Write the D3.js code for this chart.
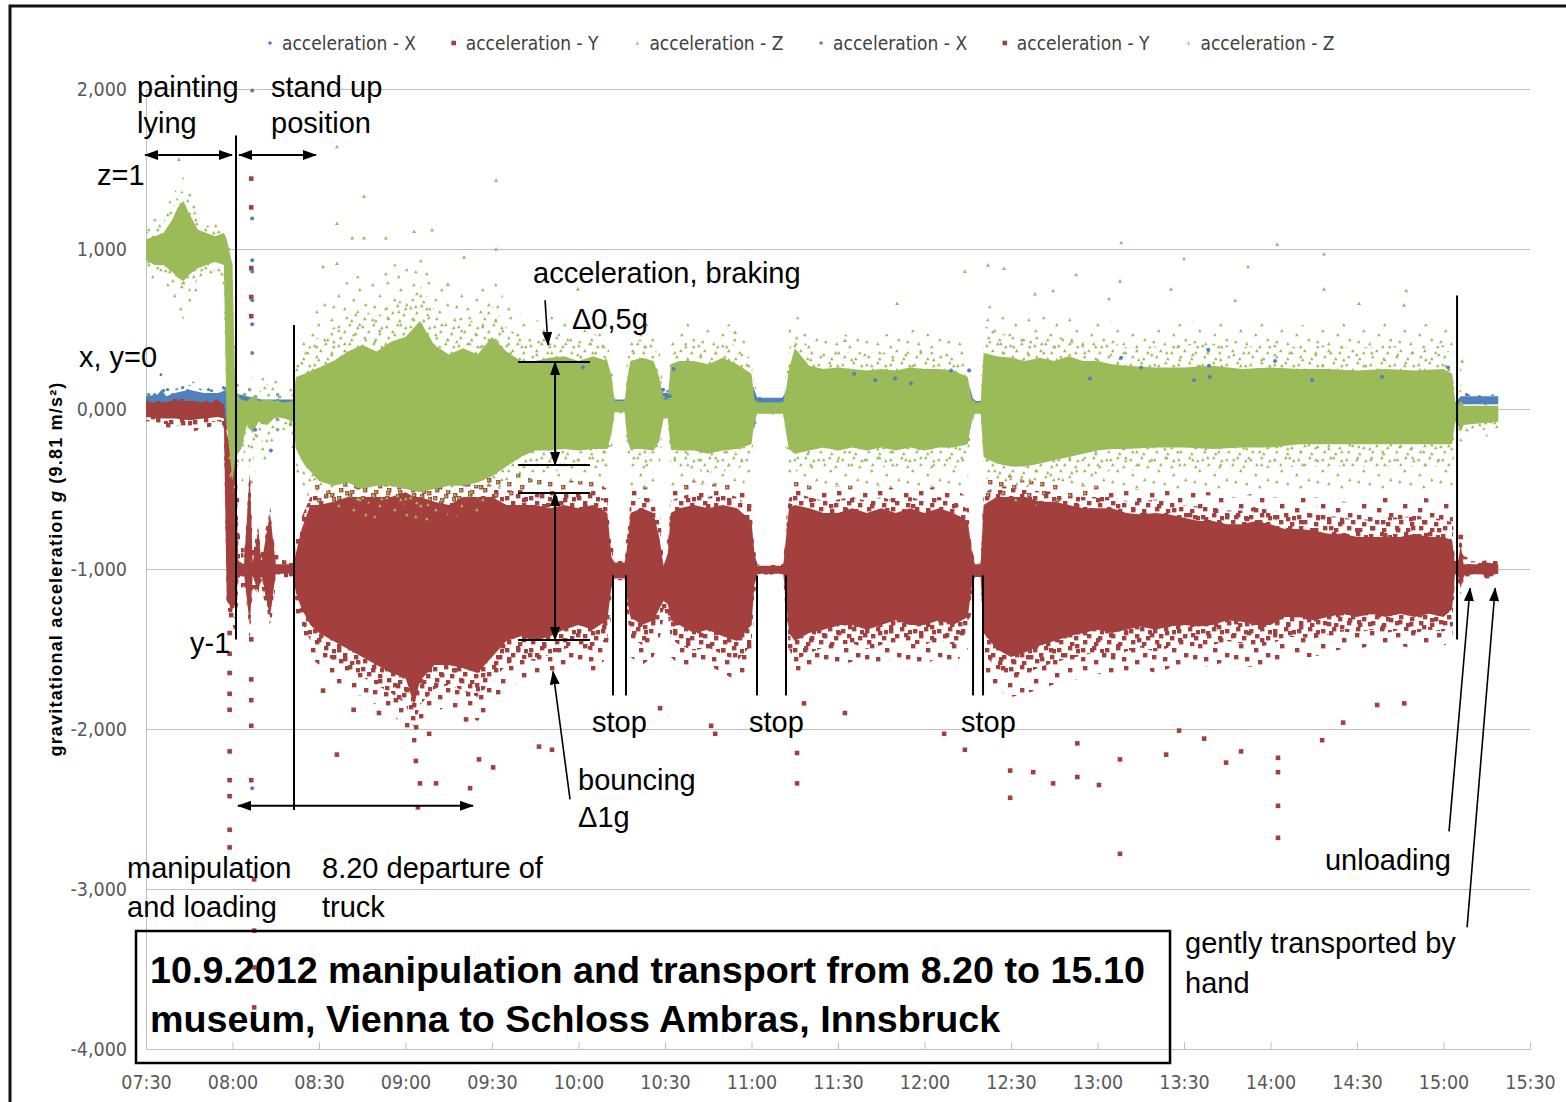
<!DOCTYPE html>
<html>
<head>
<meta charset="utf-8">
<script src="https://cdn.jsdelivr.net/npm/d3@7"></script>
<style>
  body { margin: 0; background: #fff; }
  svg { display: block; }
</style>
</head>
<body>
<div id="chart"></div>
<script>
// ---- values (g) ----
const timeDomain = ["07:30", "15:30"];
const valueDomain = [-4, 2];
const yTicks = [2, 1, 0, -1, -2, -3, -4];
const legendLabels = ["acceleration - X", "acceleration - Y", "acceleration - Z",
                      "acceleration - X", "acceleration - Y", "acceleration - Z"];
const legendSeries = ["x", "y", "z", "x", "y", "z"];

// dense cloud per sensor axis: [time, coreLow, coreHigh, fringeLow, fringeHigh]
const accX = [
  ["07:30", 0.00, 0.08, -0.05, 0.12], ["07:34", 0.00, 0.09, -0.10, 0.16],
  ["07:35:30", -0.05, 0.12, -0.21, 0.27], ["07:37", 0.00, 0.08, -0.08, 0.13],
  ["07:40", 0.00, 0.10, -0.08, 0.15], ["07:45", 0.00, 0.12, -0.10, 0.18],
  ["07:50", 0.00, 0.10, -0.06, 0.14], ["07:55", 0.02, 0.10, -0.05, 0.15],
  ["07:58", -0.10, 0.12, -0.30, 0.20], ["08:00", -0.05, 0.10, -0.30, 0.25],
  ["08:05", 0.00, 0.08, -0.10, 0.15], ["08:10", 0.00, 0.06, -0.12, 0.12],
  ["08:15", -0.02, 0.06, -0.15, 0.10], ["08:21", -0.02, 0.06, -0.10, 0.10],
  ["08:23", -0.12, 0.12, -0.20, 0.18], ["10:11", -0.12, 0.12, -0.20, 0.18],
  ["10:12", 0.02, 0.06, 0.00, 0.08], ["10:16:30", 0.02, 0.06, 0.00, 0.08],
  ["10:17:30", -0.12, 0.12, -0.20, 0.18], ["10:28:30", -0.12, 0.12, -0.20, 0.18],
  ["10:29:30", 0.03, 0.10, 0.00, 0.13], ["10:31", 0.03, 0.10, 0.00, 0.13],
  ["10:32", -0.12, 0.12, -0.20, 0.18], ["11:01", -0.12, 0.12, -0.20, 0.18],
  ["11:02", 0.03, 0.07, 0.02, 0.08], ["11:11", 0.03, 0.07, 0.02, 0.08],
  ["11:12", -0.12, 0.12, -0.20, 0.18], ["12:16", -0.12, 0.12, -0.20, 0.18],
  ["12:17", 0.01, 0.05, 0.00, 0.07], ["12:19:30", 0.01, 0.05, 0.00, 0.07],
  ["12:20:30", -0.12, 0.12, -0.20, 0.18], ["15:03", -0.12, 0.12, -0.20, 0.18],
  ["15:04", 0.02, 0.04, 0.00, 0.06], ["15:06", 0.03, 0.08, 0.02, 0.10],
  ["15:19", 0.03, 0.08, 0.02, 0.10]
];

const accY = [
  ["07:30", -0.05, 0.04, -0.10, 0.06], ["07:35", -0.06, 0.04, -0.12, 0.06],
  ["07:40", -0.06, 0.05, -0.14, 0.07], ["07:45", -0.07, 0.05, -0.15, 0.08],
  ["07:50", -0.06, 0.04, -0.12, 0.06], ["07:55", -0.05, 0.04, -0.10, 0.06],
  ["07:57", -0.06, 0.03, -0.12, 0.05], ["07:58", -1.20, -0.15, -1.30, -0.05],
  ["08:00", -1.25, -0.30, -1.35, -0.20], ["08:01", -1.22, -0.30, -1.40, -0.25],
  ["08:02", -1.05, -0.95, -1.20, -0.50], ["08:04", -1.03, -0.97, -1.10, -0.90],
  ["08:06", -1.35, -0.40, -1.45, -0.30], ["08:07", -1.04, -0.96, -1.15, -0.85],
  ["08:09", -1.15, -0.75, -1.20, -0.70], ["08:10", -1.03, -0.97, -1.10, -0.90],
  ["08:13", -1.30, -0.65, -1.40, -0.60], ["08:15", -1.03, -0.97, -1.10, -0.90],
  ["08:18", -1.03, -0.97, -1.08, -0.92], ["08:21", -1.03, -0.97, -1.08, -0.93],
  ["08:22", -1.15, -0.90, -1.30, -0.80], ["08:24", -1.25, -0.75, -1.40, -0.60],
  ["08:27", -1.35, -0.60, -1.55, -0.50], ["08:30", -1.40, -0.60, -1.60, -0.45],
  ["08:35", -1.45, -0.58, -1.70, -0.42], ["08:40", -1.50, -0.55, -1.75, -0.40],
  ["08:45", -1.55, -0.55, -1.80, -0.38], ["08:50", -1.60, -0.55, -1.85, -0.40],
  ["08:55", -1.65, -0.55, -1.90, -0.38], ["09:00", -1.68, -0.52, -2.00, -0.38],
  ["09:03", -1.85, -0.55, -2.15, -0.38], ["09:05", -1.70, -0.55, -2.00, -0.40],
  ["09:10", -1.60, -0.58, -1.90, -0.40], ["09:15", -1.60, -0.60, -1.85, -0.42],
  ["09:20", -1.62, -0.55, -1.90, -0.40], ["09:25", -1.65, -0.55, -1.95, -0.40],
  ["09:30", -1.55, -0.55, -1.85, -0.40], ["09:35", -1.45, -0.60, -1.75, -0.42],
  ["09:40", -1.42, -0.60, -1.70, -0.40], ["09:45", -1.45, -0.60, -1.70, -0.45],
  ["09:50", -1.42, -0.62, -1.65, -0.42], ["09:55", -1.38, -0.60, -1.62, -0.45],
  ["10:00", -1.35, -0.62, -1.60, -0.45], ["10:05", -1.38, -0.60, -1.65, -0.45],
  ["10:10", -1.32, -0.65, -1.55, -0.50], ["10:11:30", -1.10, -0.93, -1.25, -0.80],
  ["10:12:30", -1.06, -0.96, -1.08, -0.94], ["10:16", -1.06, -0.96, -1.08, -0.94],
  ["10:17", -1.20, -0.85, -1.40, -0.70], ["10:18", -1.30, -0.65, -1.55, -0.50],
  ["10:22", -1.35, -0.62, -1.60, -0.48], ["10:26", -1.32, -0.65, -1.55, -0.50],
  ["10:28", -1.25, -0.80, -1.45, -0.60], ["10:29:30", -1.20, -0.98, -1.30, -0.94],
  ["10:31", -1.22, -0.90, -1.35, -0.80], ["10:32", -1.32, -0.65, -1.55, -0.50],
  ["10:35", -1.35, -0.62, -1.60, -0.48], ["10:40", -1.40, -0.60, -1.62, -0.45],
  ["10:45", -1.38, -0.62, -1.60, -0.48], ["10:50", -1.42, -0.60, -1.65, -0.45],
  ["10:55", -1.45, -0.62, -1.70, -0.48], ["11:00", -1.35, -0.70, -1.60, -0.55],
  ["11:01", -1.10, -0.90, -1.20, -0.85], ["11:02", -1.03, -0.98, -1.04, -0.97],
  ["11:11", -1.03, -0.98, -1.04, -0.97], ["11:12", -1.20, -0.80, -1.35, -0.70],
  ["11:13", -1.40, -0.62, -1.60, -0.50], ["11:15", -1.45, -0.60, -1.70, -0.45],
  ["11:20", -1.40, -0.62, -1.65, -0.48], ["11:25", -1.38, -0.65, -1.60, -0.50],
  ["11:30", -1.35, -0.65, -1.60, -0.48], ["11:35", -1.35, -0.62, -1.58, -0.48],
  ["11:40", -1.38, -0.65, -1.62, -0.50], ["11:45", -1.35, -0.62, -1.60, -0.48],
  ["11:50", -1.32, -0.65, -1.55, -0.50], ["11:55", -1.35, -0.62, -1.58, -0.48],
  ["12:00", -1.35, -0.65, -1.60, -0.50], ["12:05", -1.32, -0.62, -1.55, -0.48],
  ["12:10", -1.35, -0.65, -1.60, -0.50], ["12:15", -1.30, -0.70, -1.50, -0.55],
  ["12:16:30", -1.10, -0.90, -1.20, -0.85], ["12:17:30", -1.05, -0.97, -1.06, -0.96],
  ["12:19:30", -1.05, -0.97, -1.06, -0.96], ["12:20:30", -1.40, -0.60, -1.65, -0.45],
  ["12:25", -1.50, -0.55, -1.75, -0.42], ["12:30", -1.55, -0.55, -1.80, -0.42],
  ["12:35", -1.52, -0.55, -1.78, -0.45], ["12:40", -1.48, -0.58, -1.75, -0.45],
  ["12:45", -1.45, -0.58, -1.72, -0.45], ["12:50", -1.42, -0.60, -1.70, -0.48],
  ["12:55", -1.40, -0.62, -1.68, -0.48], ["13:00", -1.38, -0.62, -1.65, -0.48],
  ["13:05", -1.40, -0.62, -1.70, -0.48], ["13:10", -1.38, -0.65, -1.65, -0.50],
  ["13:15", -1.36, -0.66, -1.62, -0.50], ["13:20", -1.38, -0.65, -1.65, -0.48],
  ["13:25", -1.36, -0.66, -1.62, -0.50], ["13:30", -1.35, -0.68, -1.60, -0.52],
  ["13:35", -1.36, -0.70, -1.62, -0.52], ["13:40", -1.35, -0.70, -1.60, -0.52],
  ["13:45", -1.32, -0.72, -1.58, -0.55], ["13:50", -1.33, -0.72, -1.60, -0.55],
  ["13:55", -1.35, -0.70, -1.62, -0.52], ["14:00", -1.35, -0.72, -1.60, -0.55],
  ["14:05", -1.30, -0.75, -1.55, -0.55], ["14:10", -1.30, -0.75, -1.55, -0.55],
  ["14:15", -1.32, -0.76, -1.55, -0.55], ["14:20", -1.30, -0.78, -1.52, -0.55],
  ["14:25", -1.28, -0.78, -1.50, -0.58], ["14:30", -1.30, -0.80, -1.50, -0.58],
  ["14:35", -1.28, -0.80, -1.48, -0.58], ["14:40", -1.30, -0.80, -1.50, -0.55],
  ["14:45", -1.28, -0.80, -1.48, -0.56], ["14:50", -1.30, -0.78, -1.50, -0.55],
  ["14:55", -1.28, -0.80, -1.48, -0.56], ["15:00", -1.30, -0.80, -1.48, -0.58],
  ["15:03", -1.25, -0.82, -1.45, -0.60], ["15:04", -1.03, -0.97, -1.05, -0.95],
  ["15:05", -1.04, -0.96, -1.12, -0.86], ["15:06", -1.12, -0.85, -1.20, -0.80],
  ["15:07", -1.04, -0.97, -1.08, -0.92], ["15:12", -1.03, -0.97, -1.06, -0.94],
  ["15:15", -1.04, -0.96, -1.07, -0.93], ["15:19", -1.03, -0.97, -1.05, -0.95]
];

const accZ = [
  ["07:30", 0.93, 1.06, 0.84, 1.14], ["07:33", 0.90, 1.08, 0.78, 1.20],
  ["07:36", 0.90, 1.10, 0.80, 1.24], ["07:39", 0.86, 1.18, 0.72, 1.32],
  ["07:41", 0.82, 1.26, 0.62, 1.40], ["07:43", 0.80, 1.30, 0.56, 1.45],
  ["07:45", 0.84, 1.22, 0.62, 1.38], ["07:48", 0.88, 1.12, 0.74, 1.28],
  ["07:51", 0.90, 1.10, 0.80, 1.20], ["07:54", 0.92, 1.08, 0.82, 1.16],
  ["07:57", 0.90, 1.10, 0.70, 1.20], ["07:58", -0.10, 1.06, -0.45, 1.10],
  ["08:00", -0.45, 0.90, -0.60, 1.00], ["08:01", -0.30, 0.10, -0.55, 0.30],
  ["08:03", -0.25, 0.06, -0.50, 0.15], ["08:05", -0.10, 0.05, -0.35, 0.15],
  ["08:07", -0.15, 0.08, -0.50, 0.20], ["08:09", -0.08, 0.05, -0.30, 0.15],
  ["08:12", -0.10, 0.06, -0.35, 0.25], ["08:15", -0.05, 0.05, -0.25, 0.20],
  ["08:18", -0.06, 0.04, -0.20, 0.12], ["08:21", -0.08, 0.05, -0.25, 0.15],
  ["08:22", -0.25, 0.20, -0.45, 0.45], ["08:25", -0.35, 0.22, -0.50, 0.50],
  ["08:30", -0.45, 0.26, -0.60, 0.65], ["08:35", -0.48, 0.30, -0.66, 0.72],
  ["08:40", -0.46, 0.36, -0.68, 0.80], ["08:45", -0.50, 0.40, -0.70, 0.85],
  ["08:50", -0.48, 0.36, -0.68, 0.78], ["08:55", -0.48, 0.42, -0.66, 0.90],
  ["09:00", -0.50, 0.45, -0.70, 0.92], ["09:05", -0.52, 0.55, -0.72, 1.00],
  ["09:10", -0.50, 0.40, -0.70, 0.85], ["09:15", -0.48, 0.34, -0.66, 0.72],
  ["09:20", -0.48, 0.38, -0.68, 0.78], ["09:25", -0.46, 0.34, -0.66, 0.72],
  ["09:30", -0.42, 0.45, -0.62, 0.85], ["09:35", -0.36, 0.36, -0.58, 0.66],
  ["09:40", -0.30, 0.30, -0.55, 0.60], ["09:45", -0.26, 0.30, -0.52, 0.55],
  ["09:50", -0.26, 0.32, -0.52, 0.58], ["09:55", -0.25, 0.33, -0.52, 0.60],
  ["10:00", -0.26, 0.30, -0.50, 0.55], ["10:05", -0.25, 0.33, -0.50, 0.62],
  ["10:10", -0.25, 0.30, -0.48, 0.55], ["10:11:30", -0.15, 0.20, -0.30, 0.35],
  ["10:12:30", -0.02, 0.05, -0.04, 0.07], ["10:16", -0.02, 0.05, -0.04, 0.07],
  ["10:17", -0.20, 0.20, -0.35, 0.40], ["10:18", -0.25, 0.30, -0.50, 0.55],
  ["10:22", -0.25, 0.32, -0.50, 0.55], ["10:26", -0.26, 0.30, -0.50, 0.55],
  ["10:28", -0.20, 0.20, -0.40, 0.40], ["10:29:30", -0.06, 0.06, -0.10, 0.10],
  ["10:31", -0.06, 0.06, -0.10, 0.10], ["10:32", -0.25, 0.28, -0.48, 0.45],
  ["10:35", -0.26, 0.30, -0.50, 0.50], ["10:40", -0.26, 0.30, -0.50, 0.56],
  ["10:45", -0.28, 0.28, -0.52, 0.50], ["10:50", -0.26, 0.32, -0.52, 0.55],
  ["10:55", -0.25, 0.28, -0.50, 0.50], ["11:00", -0.22, 0.22, -0.42, 0.40],
  ["11:01", -0.08, 0.06, -0.20, 0.15], ["11:02", -0.03, 0.04, -0.04, 0.05],
  ["11:11", -0.03, 0.04, -0.04, 0.05], ["11:12", -0.15, 0.12, -0.30, 0.25],
  ["11:13", -0.25, 0.25, -0.45, 0.50], ["11:15", -0.28, 0.38, -0.50, 0.60],
  ["11:20", -0.26, 0.27, -0.50, 0.50], ["11:25", -0.24, 0.25, -0.48, 0.45],
  ["11:30", -0.26, 0.26, -0.50, 0.48], ["11:35", -0.24, 0.25, -0.50, 0.45],
  ["11:40", -0.26, 0.24, -0.50, 0.48], ["11:45", -0.24, 0.25, -0.48, 0.45],
  ["11:50", -0.26, 0.24, -0.50, 0.50], ["11:55", -0.24, 0.26, -0.50, 0.50],
  ["12:00", -0.26, 0.25, -0.50, 0.48], ["12:05", -0.24, 0.25, -0.48, 0.45],
  ["12:10", -0.24, 0.24, -0.50, 0.45], ["12:15", -0.22, 0.20, -0.45, 0.40],
  ["12:16:30", -0.06, 0.05, -0.12, 0.08], ["12:17:30", -0.03, 0.04, -0.04, 0.05],
  ["12:19:30", -0.03, 0.04, -0.04, 0.05], ["12:20:30", -0.30, 0.35, -0.55, 0.70],
  ["12:25", -0.34, 0.33, -0.60, 0.62], ["12:30", -0.36, 0.32, -0.62, 0.60],
  ["12:35", -0.36, 0.30, -0.62, 0.58], ["12:40", -0.34, 0.32, -0.60, 0.60],
  ["12:45", -0.32, 0.30, -0.60, 0.55], ["12:50", -0.30, 0.33, -0.58, 0.62],
  ["12:55", -0.28, 0.30, -0.56, 0.55], ["13:00", -0.26, 0.30, -0.55, 0.55],
  ["13:05", -0.25, 0.28, -0.52, 0.55], ["13:10", -0.25, 0.27, -0.52, 0.50],
  ["13:20", -0.24, 0.26, -0.52, 0.52], ["13:30", -0.24, 0.26, -0.50, 0.55],
  ["13:40", -0.25, 0.27, -0.52, 0.55], ["13:50", -0.24, 0.25, -0.50, 0.52],
  ["14:00", -0.24, 0.26, -0.50, 0.55], ["14:10", -0.22, 0.25, -0.50, 0.52],
  ["14:20", -0.22, 0.25, -0.50, 0.55], ["14:30", -0.22, 0.24, -0.50, 0.52],
  ["14:40", -0.22, 0.25, -0.50, 0.55], ["14:50", -0.22, 0.24, -0.50, 0.52],
  ["15:00", -0.22, 0.25, -0.50, 0.55], ["15:03", -0.22, 0.22, -0.50, 0.45],
  ["15:04", -0.08, 0.04, -0.15, 0.05], ["15:05", -0.10, 0.02, -0.20, 0.04],
  ["15:06", -0.14, 0.05, -0.28, 0.30], ["15:07", -0.10, 0.02, -0.20, 0.04],
  ["15:12", -0.09, 0.02, -0.18, 0.04], ["15:19", -0.08, 0.02, -0.16, 0.04]
];

// single stray readings: [time, value]
const outX = [
  ["08:06:50", 1.99], ["08:06:50", 1.19], ["08:06:50", 0.93], ["08:06:50", 0.86],
  ["08:06:50", 0.68], ["08:06:50", 0.53], ["08:06:50", 0.35], ["08:06:50", -2.37],
  ["08:07:50", -0.13], ["08:13:20", -0.26], ["10:29:20", 0.12], ["10:30:30", 0.09],
  ["10:31:40", 0.08], ["10:01:30", 0.26], ["10:33", 0.25], ["11:35:36", 0.22],
  ["11:42:54", 0.18], ["11:49:48", 0.19], ["11:55:18", 0.16], ["12:09:12", 0.24],
  ["12:15:30", 0.24], ["12:57:24", 0.19], ["13:08:12", 0.32], ["13:15:06", 0.26],
  ["13:33:30", 0.18], ["13:38:24", 0.37], ["13:38:40", 0.27], ["13:38:56", 0.20],
  ["14:01:36", 0.30], ["14:14:24", 0.18], ["14:38:42", 0.20], ["15:01:36", 0.26]
];

const outY = [
  ["07:59", -1.40], ["07:59", -1.53], ["07:59", -1.65], ["07:59", -1.78], ["07:59", -1.88],
  ["07:59", -2.14], ["07:59", -2.32], ["07:59", -2.42], ["07:59", -2.63], ["07:59", -2.74],
  ["08:06:30", 1.44], ["08:06:30", 1.26], ["08:06:30", 0.88], ["08:06:30", 0.70],
  ["08:06:30", 0.58], ["08:06:30", -1.44], ["08:06:30", -1.69], ["08:06:30", -1.82],
  ["08:06:30", -1.98], ["08:06:30", -2.32], ["08:07:30", -2.94], ["08:07:30", -3.26],
  ["08:07:30", -3.49], ["08:07:30", -3.74],
  ["08:31:24", -1.76], ["08:36:12", -2.16], ["08:42", -1.88], ["08:50:48", -1.90],
  ["08:56:42", -1.82], ["09:03:36", -2.20], ["09:05", -2.34], ["09:04:18", -2.49],
  ["09:10:36", -2.34], ["09:08:12", -2.03], ["09:21", -1.94], ["09:22:24", -2.37],
  ["09:25:30", -2.19], ["09:30:24", -2.24], ["09:46:18", -2.11], ["09:50:48", -2.13],
  ["10:28:18", -1.87], ["10:46", -1.98], ["10:47:24", -2.03], ["11:15:48", -2.15],
  ["11:15:48", -2.34], ["11:18:12", -1.84], ["11:32:24", -1.90], ["12:06:48", -2.03],
  ["12:14", -2.13], ["12:29:42", -2.43], ["12:29:42", -2.26], ["12:37:42", -2.27],
  ["12:44:36", -2.34], ["12:53", -2.09], ["12:53", -2.30], ["13:00:30", -2.35],
  ["13:07:48", -2.19], ["13:07:48", -2.78], ["13:23:48", -2.16], ["13:28:18", -2.01],
  ["13:37", -2.06], ["13:44:36", -2.21], ["13:49:48", -2.14], ["14:02:36", -2.18],
  ["14:02:36", -2.27], ["14:02:36", -2.48], ["14:02:36", -2.68], ["14:17:54", -2.07],
  ["14:25:12", -1.96], ["14:37", -1.85], ["14:46:24", -1.84], ["15:06", -0.80]
];

const outZ = [
  ["07:41:24", 1.56], ["08:36:12", 1.64], ["08:36:12", 1.16], ["08:45:36", 1.33],
  ["09:31:24", 1.43], ["09:31:24", 1.00], ["08:41:30", 1.07], ["08:45:36", 1.07],
  ["08:53:12", 1.07], ["09:03", 1.11], ["09:09:12", 1.12], ["08:31:24", 0.89],
  ["08:36:12", 0.91], ["09:14:42", 0.78], ["09:20:18", 0.95], ["12:22", 0.90],
  ["12:27:36", 0.88], ["12:14", 0.86], ["12:52:36", 0.84], ["12:38:18", 0.72],
  ["11:50:30", 0.66], ["11:32:24", 0.43], ["10:54:18", 0.48], ["09:59:48", 0.75],
  ["13:08:12", 1.04], ["14:02:18", 1.03], ["14:18:36", 0.97], ["14:18:36", 0.75],
  ["13:30", 0.94], ["13:52:12", 0.89], ["13:07:48", 0.80], ["14:47:06", 0.74],
  ["14:30:42", 0.66], ["14:46:18", 0.65], ["13:04", 0.69], ["13:25:30", 0.75],
  ["13:47:42", 0.68], ["12:44:36", 0.74], ["15:06:30", 0.30]
];

// ---- chart ----
const W = 1566, H = 1102;
const colors = { x: "#4F81BD", y: "#A3403D", z: "#9BBB59" };
const smallFont = "'DejaVu Sans Condensed', 'Liberation Sans', sans-serif";
const bigFont = "'Liberation Sans', Arial, sans-serif";

const parseT = s => {
  const p = s.split(":").map(Number);
  return new Date(2012, 8, 10, p[0], p[1], p[2] || 0);
};

const x = d3.scaleTime()
  .domain(timeDomain.map(parseT))
  .range([146, 1530]);

const y = d3.scaleLinear()
  .domain(valueDomain)
  .range([1049, 89]);

const fmtG = v => (v < 0 ? "-" : "") + Math.abs(v).toFixed(3).replace(".", ",");

const svg = d3.select("#chart").append("svg")
  .attr("width", W)
  .attr("height", H);

svg.append("rect").attr("width", W).attr("height", H).attr("fill", "#fff");

// frame (picture is cropped, only top and left edges show)
svg.append("rect")
  .attr("x", 10).attr("y", 6)
  .attr("width", W + 20).attr("height", H + 20)
  .attr("fill", "none").attr("stroke", "#111").attr("stroke-width", 3);

const defs = svg.append("defs");

// scattered-marker textures for the thinning edge of each cloud
function scatterPattern(id, w, h, spots, key) {
  const p = defs.append("pattern").attr("id", id)
    .attr("patternUnits", "userSpaceOnUse").attr("width", w).attr("height", h);
  spots.forEach(([sx, sy]) => {
    if (key === "y") {
      p.append("rect").attr("x", sx).attr("y", sy).attr("width", 4.4).attr("height", 4.4)
        .attr("fill", colors.y);
    } else if (key === "z") {
      p.append("path").attr("d", `M${sx},${sy + 3.2}L${sx + 1.8},${sy}L${sx + 3.6},${sy + 3.2}Z`)
        .attr("fill", colors.z);
    } else {
      p.append("circle").attr("cx", sx + 1.6).attr("cy", sy + 1.6).attr("r", 1.7)
        .attr("fill", colors.x);
    }
  });
}
const sparseSpots = [[2, 3], [17, 1], [30, 8], [9, 14], [24, 18], [36, 23], [4, 25], [15, 27], [28, 30]];
const denseSpots = [[1, 2], [12, 0], [7, 7], [18, 9], [3, 13], [14, 15], [20, 3]];
["x", "y", "z"].forEach(k => {
  scatterPattern(`outer-${k}`, 41, 35, sparseSpots, k);
  scatterPattern(`inner-${k}`, 24, 19, denseSpots, k);
});

const marker = defs.append("marker").attr("id", "arrow")
  .attr("viewBox", "0 0 14 10").attr("refX", 13).attr("refY", 5)
  .attr("markerUnits", "userSpaceOnUse").attr("markerWidth", 14).attr("markerHeight", 10)
  .attr("orient", "auto-start-reverse");
marker.append("path").attr("d", "M0,0L14,5L0,10Z").attr("fill", "#000");

// gridlines
svg.append("g")
  .attr("transform", "translate(146,0)")
  .call(d3.axisLeft(y).tickValues(yTicks).tickSize(-(1530 - 146)).tickFormat(""))
  .call(g => g.select(".domain").attr("stroke", "#BFBFBF"))
  .call(g => g.selectAll(".tick line").attr("stroke", "#BFBFBF"));

// y tick labels
svg.append("g")
  .attr("transform", "translate(146,0)")
  .call(d3.axisLeft(y).tickValues(yTicks).tickSize(0).tickPadding(19).tickFormat(fmtG))
  .call(g => g.select(".domain").remove())
  .call(g => g.selectAll("text")
    .attr("font-family", smallFont).attr("font-size", 19.5).attr("fill", "#595959"));

// x axis with inward ticks
svg.append("g")
  .attr("transform", `translate(0,${y(-4)})`)
  .call(d3.axisBottom(x).ticks(d3.timeMinute.every(30))
    .tickFormat(d3.timeFormat("%H:%M")).tickSizeInner(-7).tickSizeOuter(0).tickPadding(26))
  .call(g => g.select(".domain").attr("stroke", "#BFBFBF"))
  .call(g => g.selectAll(".tick line").attr("stroke", "#BFBFBF"))
  .call(g => g.selectAll("text")
    .attr("font-family", smallFont).attr("font-size", 19.5).attr("fill", "#595959"));

// y axis title
svg.append("text")
  .attr("transform", `translate(56,${y(-1)}) rotate(-90)`)
  .attr("text-anchor", "middle")
  .attr("dominant-baseline", "central")
  .attr("font-family", bigFont)
  .attr("font-weight", "bold")
  .attr("font-size", 18)
  .attr("letter-spacing", 1.2)
  .call(t => {
    t.append("tspan").text("gravitational acceleration ");
    t.append("tspan").attr("font-style", "italic").text("g");
    t.append("tspan").text("  (9.81 m/s²)");
  });

// clouds
const plot = svg.append("g");
const tx = d => x(parseT(d[0]));

function drawCloud(data, key) {
  // sparse outer band, denser inner band, solid core
  plot.append("path").datum(data)
    .attr("d", d3.area().x(tx).y0(d => y(d[3])).y1(d => y(d[4])))
    .attr("fill", `url(#outer-${key})`);
  plot.append("path").datum(data)
    .attr("d", d3.area().x(tx)
      .y0(d => y((d[1] + d[3]) / 2)).y1(d => y((d[2] + d[4]) / 2)))
    .attr("fill", `url(#inner-${key})`);
  plot.append("path").datum(data)
    .attr("d", d3.area().x(tx).y0(d => y(d[1])).y1(d => y(d[2])))
    .attr("fill", colors[key]);
}

function drawDots(data, key) {
  const g = plot.append("g").attr("fill", colors[key]);
  if (key === "y") {
    g.selectAll("rect").data(data).join("rect")
      .attr("x", d => tx(d) - 2.3)
      .attr("y", d => y(d[1]) - 2.3)
      .attr("width", 4.6).attr("height", 4.6);
  } else if (key === "z") {
    g.selectAll("path").data(data).join("path")
      .attr("d", d => {
        const cx = tx(d), cy = y(d[1]);
        return `M${cx - 2},${cy + 1.7}L${cx},${cy - 1.9}L${cx + 2},${cy + 1.7}Z`;
      });
  } else {
    g.selectAll("circle").data(data).join("circle")
      .attr("cx", d => tx(d))
      .attr("cy", d => y(d[1]))
      .attr("r", 2);
  }
}

drawCloud(accX, "x");
drawCloud(accY, "y");
drawDots(outY, "y");
drawCloud(accZ, "z");
drawDots(outZ, "z");
drawDots(outX, "x");

// legend
const legend = svg.append("g")
  .attr("font-family", smallFont)
  .attr("font-size", 19).attr("fill", "#404040");
legendLabels.forEach((label, i) => {
  const lx = 270 + i * 183.7, ly = 43;
  const key = legendSeries[i];
  if (key === "x") {
    legend.append("circle").attr("cx", lx).attr("cy", ly).attr("r", 1.8).attr("fill", colors.x);
  } else if (key === "y") {
    legend.append("rect").attr("x", lx - 2.3).attr("y", ly - 2.3)
      .attr("width", 4.6).attr("height", 4.6).attr("fill", colors.y);
  } else {
    legend.append("path").attr("d", `M${lx - 1.6},${ly + 1.4}L${lx},${ly - 1.6}L${lx + 1.6},${ly + 1.4}Z`)
      .attr("fill", colors.z);
  }
  legend.append("text").attr("x", lx + 12).attr("y", ly).attr("dy", "0.35em").text(label);
});

// ---- annotations (anchored to time / value) ----
const ax = s => x(parseT(s));
const ann = svg.append("g")
  .attr("font-family", bigFont)
  .attr("font-size", 29).attr("fill", "#000");

const notes = [
  ["07:26:53", 1.95, "painting"], ["07:26:53", 1.725, "lying"],
  ["08:13:22", 1.95, "stand up"], ["08:13:22", 1.725, "position"],
  ["07:13:00", 1.40, "z=1"], ["07:06:46", 0.26, "x, y=0"],
  ["07:45:16", -1.525, "y-1"],
  ["07:23:25", -2.93, "manipulation"], ["07:23:25", -3.175, "and loading"],
  ["08:31:03", -2.93, "8.20 departure of"], ["08:31:03", -3.175, "truck"],
  ["09:44:14", 0.7875, "acceleration, braking"], ["09:57:45", 0.50, "Δ0,5g"],
  ["09:59:50", -2.38, "bouncing"], ["09:59:50", -2.61, "Δ1g"],
  ["10:04:42", -2.02, "stop"], ["10:59:09", -2.02, "stop"], ["12:12:41", -2.02, "stop"],
  ["14:18:54", -2.88, "unloading"],
  ["13:30:22", -3.40, "gently transported by"], ["13:30:22", -3.65, "hand"]
];
notes.forEach(([t, v, label]) => {
  ann.append("text").attr("x", ax(t)).attr("y", y(v)).text(label);
});

const lines = svg.append("g").attr("stroke", "#000").attr("stroke-width", 2);
const seg = (t1, v1, t2, v2, arrowStart, arrowEnd, w) => {
  const l = lines.append("line")
    .attr("x1", ax(t1)).attr("y1", y(v1))
    .attr("x2", ax(t2)).attr("y2", y(v2));
  if (w) l.attr("stroke-width", w);
  if (arrowStart) l.attr("marker-start", "url(#arrow)");
  if (arrowEnd) l.attr("marker-end", "url(#arrow)");
};

// phase arrows and separators
seg("07:29:40", 1.5875, "07:59:50", 1.5875, true, true);
seg("08:02:16", 1.5875, "08:28:58", 1.5875, true, true);
seg("08:01:13", 1.71, "08:01:13", -1.44);
seg("08:21:20", 0.525, "08:21:20", -2.506);
seg("08:01:55", -2.48, "09:23:25", -2.48, true, true);
// braking / bouncing ranges
seg("09:48:24", 0.68, "09:49:26", 0.40, false, true, 1.6);
[0.294, -0.35, -0.525, -1.444].forEach(v => seg("09:39:02", v, "10:04:00", v));
seg("09:51:52", 0.294, "09:51:52", -0.35, true, true);
seg("09:51:52", -0.525, "09:51:52", -1.444, true, true);
seg("09:57:04", -2.44, "09:51:10", -1.64, false, true, 1.6);
// stops
[["10:11:58", "10:16:29"], ["11:01:55", "11:11:58"], ["12:16:50", "12:20:18"]].forEach(([a, b]) => {
  seg(a, -1.04, a, -1.79);
  seg(b, -1.04, b, -1.79);
});
// unloading
seg("15:04:42", 0.71, "15:04:42", -1.44);
seg("15:01:55", -2.64, "15:09:12", -1.12, false, true, 1.6);
seg("15:08:11", -3.24, "15:17:55", -1.12, false, true, 1.6);

// title box
svg.append("rect")
  .attr("x", ax("07:26:32")).attr("y", y(-3.2625))
  .attr("width", ax("13:25:09") - ax("07:26:32"))
  .attr("height", y(-4.0875) - y(-3.2625))
  .attr("fill", "none").attr("stroke", "#000").attr("stroke-width", 2.5);

const title = svg.append("g")
  .attr("font-family", bigFont)
  .attr("font-weight", "bold").attr("font-size", 37.7);
title.append("text").attr("x", ax("07:31:23")).attr("y", y(-3.5875))
  .text("10.9.2012 manipulation and transport from 8.20 to 15.10");
title.append("text").attr("x", ax("07:31:23")).attr("y", y(-3.894))
  .text("museum, Vienna to Schloss Ambras, Innsbruck");
</script>
</body>
</html>
